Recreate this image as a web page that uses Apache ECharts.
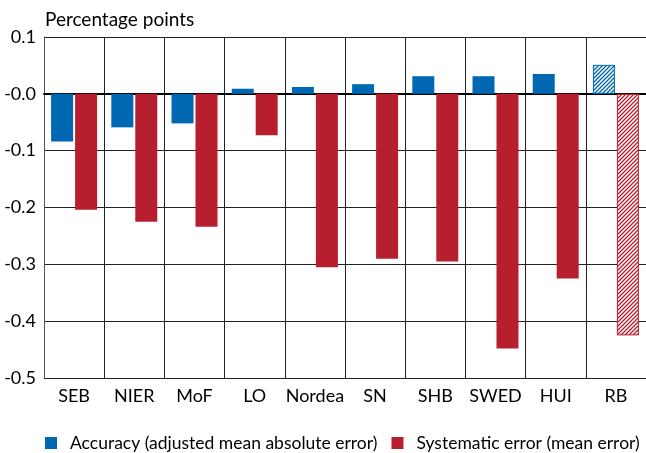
<!DOCTYPE html>
<html>
<head>
<meta charset="utf-8">
<script src="https://cdn.jsdelivr.net/npm/echarts@6/dist/echarts.min.js"></script>
<style>
  html, body { margin: 0; padding: 0; background: #fff; }
  #chart { width: 646px; height: 453px; }
</style>
</head>
<body>
<div id="chart"></div>
<script>
const categories = ['SEB', 'NIER', 'MoF', 'LO', 'Nordea', 'SN', 'SHB', 'SWED', 'HUI', 'RB']
const accuracy = [-0.084, -0.059, -0.052, 0.009, 0.012, 0.017, 0.031, 0.031, 0.035, 0.051]
const systematic = [-0.204, -0.225, -0.234, -0.073, -0.305, -0.290, -0.295, -0.448, -0.325, -0.425]
const yTicks = [0.1, 0, -0.1, -0.2, -0.3, -0.4, -0.5]

const BLUE = '#0068b3'
const RED = '#b81f2e'
const FONT = 'Lato, "Noto Sans", sans-serif'

// hatched fill for the last category (RB)
const makeHatch = (color) => {
  const c = document.createElement('canvas')
  c.width = 4
  c.height = 4
  const ctx = c.getContext('2d')
  ctx.fillStyle = '#fff'
  ctx.fillRect(0, 0, 4, 4)
  ctx.strokeStyle = color
  ctx.lineWidth = 1.3
  ctx.beginPath()
  ctx.moveTo(0, 4); ctx.lineTo(4, 0)
  ctx.moveTo(-1, 1); ctx.lineTo(1, -1)
  ctx.moveTo(3, 5); ctx.lineTo(5, 3)
  ctx.stroke()
  return { image: c, repeat: 'repeat' }
}

const withHatch = (values, color) => values.map((v, i) => {
  if (categories[i] !== 'RB') return v
  return { value: v, itemStyle: { color: makeHatch(color), borderColor: color, borderWidth: 1 } }
})

const chart = echarts.init(document.getElementById('chart'))

chart.setOption({
  animation: false,
  textStyle: { fontFamily: FONT },
  title: {
    text: 'Percentage points',
    left: 40,
    top: 5,
    textStyle: { fontFamily: FONT, fontSize: 19, fontWeight: 'normal', color: '#000' },
  },
  grid: {
    left: 44,
    top: 37,
    width: 606,
    height: 341,
  },
  legend: {
    top: 429,
    left: 40,
    width: 640,
    icon: 'rect',
    itemWidth: 12,
    itemHeight: 12,
    itemGap: 14,
    textStyle: { fontFamily: FONT, fontSize: 17.5, color: '#000', padding: [0, 0, 0, 8] },
    data: ['Accuracy (adjusted mean absolute error)', 'Systematic error (mean error)'],
  },
  xAxis: {
    type: 'category',
    data: categories,
    axisLine: { onZero: true, lineStyle: { color: '#000', width: 2 } },
    axisTick: { show: false },
    splitLine: { show: true, interval: 0, lineStyle: { color: '#222', width: 1 } },
    axisLabel: {
      interval: 0,
      margin: 9,
      fontFamily: FONT,
      fontSize: 18,
      color: '#000',
    },
    position: 'bottom',
  },
  yAxis: {
    type: 'value',
    min: -0.5,
    max: 0.1,
    interval: 0.1,
    axisLine: { show: true, lineStyle: { color: '#555', width: 1 } },
    axisTick: { show: false },
    splitLine: { show: true, lineStyle: { color: '#222', width: 1 } },
    axisLabel: {
      margin: 8,
      fontFamily: FONT,
      fontSize: 18,
      color: '#000',
      formatter: (v) => {
        const t = yTicks.find(x => Math.abs(x - v) < 1e-6)
        const n = t === undefined ? v : t
        return n > 0 ? n.toFixed(1) : '-' + Math.abs(n).toFixed(1)
      },
    },
  },
  series: [
    {
      name: 'Accuracy (adjusted mean absolute error)',
      type: 'bar',
      barWidth: 22,
      barGap: '9%',
      itemStyle: { color: BLUE },
      data: withHatch(accuracy, BLUE),
    },
    {
      name: 'Systematic error (mean error)',
      type: 'bar',
      barWidth: 22,
      itemStyle: { color: RED },
      data: withHatch(systematic, RED),
    },
  ],
})
</script>
</body>
</html>
